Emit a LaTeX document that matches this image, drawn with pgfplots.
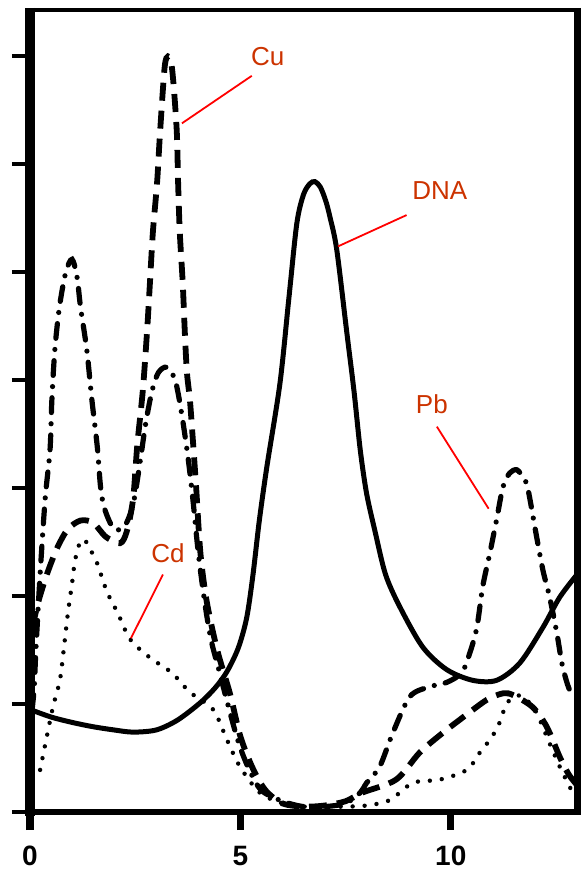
\documentclass[border=0pt]{standalone}
\usepackage{fontspec}
\setmainfont{Liberation Sans}
\usepackage{pgfplots}
\pgfplotsset{compat=1.18}
\definecolor{labelred}{RGB}{204,51,0}
\definecolor{leadred}{RGB}{255,0,0}

\begin{document}
\begin{tikzpicture}
% page: 15pt left of the axis, 30.5pt below it, 3pt right, 5pt above
\useasboundingbox (-15pt,-30.5pt) rectangle (276.5pt,406pt);
\begin{axis}[
    at={(0,0)}, anchor=south west,
    width=273.5pt, height=401pt, scale only axis,
    xmin=0, xmax=13, ymin=0, ymax=7.43,
    axis line style={draw=none},
    xtick={0,5,10}, xticklabels={0,5,10},
    ytick={0,1,2,3,4,5,6,7}, yticklabels={},
    tick align=outside, major tick length=9pt,
    tick pos=left,
    x tick style={line width=3.5pt, black},
    y tick style={line width=2pt, black},
    xticklabel style={font=\fontsize{14}{14}\selectfont\bfseries, inner sep=0pt, yshift=-8pt},
]
% DNA
\addplot[black, line width=2.5pt, smooth] coordinates {
(0,0.95) (0.5,0.88) (1.0,0.83) (1.5,0.79) (2.0,0.76) (2.45,0.74) (3.0,0.76)
(3.5,0.85) (4.04,1.01) (4.4,1.15) (4.68,1.3) (4.95,1.52) (5.15,1.8) (5.3,2.2)
(5.45,2.7) (5.63,3.2) (5.94,3.97) (6.15,4.75) (6.34,5.45) (6.5,5.72) (6.65,5.82)
(6.77,5.84) (6.9,5.79) (7.03,5.66) (7.13,5.51) (7.29,5.21) (7.53,4.44) (7.7,3.9)
(7.85,3.35) (8.0,2.95) (8.2,2.6) (8.45,2.2) (8.79,1.90) (9.33,1.53) (9.9,1.32)
(10.52,1.22) (11.09,1.22) (11.64,1.38) (12.19,1.71) (12.59,1.99) (13.0,2.2)};
% Cu
\addplot[black, line width=2.9pt, dash pattern=on 9pt off 5pt, smooth] coordinates {
(0.05,1.7) (0.2,1.95) (0.4,2.2) (0.65,2.45) (0.9,2.62) (1.2,2.7) (1.5,2.68)
(1.8,2.55) (2.14,2.49) (2.3,2.6) (2.45,2.9) (2.55,3.4) (2.68,3.9) (2.78,4.44)
(2.85,4.9) (2.92,5.37) (3.02,5.83) (3.09,6.29) (3.2,6.9) (3.28,7.0) (3.36,6.93)
(3.42,6.7) (3.49,6.29) (3.52,5.83) (3.56,5.37) (3.63,4.9) (3.68,4.44) (3.73,4.07)
(3.8,3.82) (3.87,3.45) (3.95,3.0) (4.05,2.4) (4.2,1.95) (4.45,1.5) (4.75,1.1)
(5.0,0.7) (5.3,0.4) (5.6,0.2) (6.0,0.08) (6.5,0.05) (7.0,0.06) (7.5,0.1)
(7.9,0.18) (8.7,0.3) (9.26,0.55) (9.8,0.73) (10.3,0.88) (10.86,1.04) (11.25,1.1)
(11.5,1.08) (11.95,0.97) (12.28,0.79) (12.59,0.51) (12.8,0.35) (13.0,0.25)};
% Pb
\addplot[black, line width=2.6pt, line cap=round, dash pattern=on 7.4pt off 5.6pt on 0pt off 5.6pt, smooth] coordinates {
(0.05,0.95) (0.1,1.15) (0.14,1.5) (0.24,2.2) (0.36,2.9) (0.475,3.35) (0.52,3.82)
(0.59,4.28) (0.7,4.68) (0.85,5.0) (1.0,5.12) (1.12,4.95) (1.2,4.68) (1.35,4.28)
(1.47,3.82) (1.6,3.38) (1.68,3.0) (1.78,2.8) (2.0,2.62) (2.25,2.65) (2.45,2.85)
(2.6,3.2) (2.75,3.6) (2.9,3.9) (3.05,4.07) (3.25,4.12) (3.45,4.0) (3.6,3.7)
(3.75,3.3) (3.87,2.9) (4.0,2.4) (4.15,1.95) (4.3,1.6) (4.5,1.3) (4.7,1.0)
(4.95,0.65) (5.2,0.4) (5.5,0.2) (6.0,0.1) (6.5,0.05) (7.0,0.05) (7.5,0.08)
(7.85,0.18) (8.0,0.27) (8.31,0.42) (8.62,0.73) (9.03,1.07) (9.5,1.16) (9.9,1.2)
(10.26,1.29) (10.45,1.47) (10.62,1.71) (10.76,2.09) (10.93,2.40) (11.09,2.71)
(11.24,3.01) (11.4,3.14) (11.57,3.17) (11.72,3.1) (11.83,3.0) (12.04,2.55)
(12.19,2.24) (12.35,1.99) (12.52,1.66) (12.64,1.38) (12.76,1.2) (12.9,1.05)};
% Cd
\addplot[black, line width=2.2pt, dash pattern=on 0pt off 6pt, line cap=round, smooth] coordinates {
(0.24,0.39) (0.4,0.7) (0.55,0.98) (0.71,1.22) (0.8,1.5) (0.9,1.84) (1.0,2.12)
(1.07,2.33) (1.19,2.5) (1.3,2.52) (1.45,2.42) (1.6,2.3) (1.83,2.04) (2.09,1.84)
(2.38,1.6) (2.85,1.43) (3.37,1.29) (3.8,1.11) (4.35,0.95) (4.68,0.67) (4.99,0.42)
(5.46,0.18) (6.0,0.08) (6.5,0.05) (7.0,0.05) (7.5,0.05) (8.0,0.06) (8.55,0.11)
(9.1,0.27) (9.74,0.3) (10.38,0.39) (10.69,0.55) (10.93,0.67) (11.12,0.79)
(11.24,0.92) (11.4,1.04) (11.64,1.08) (11.85,1.02) (12.04,0.92) (12.28,0.70)
(12.59,0.42) (12.87,0.2)};

\coordinate (bl) at (rel axis cs:0,0);
\coordinate (br) at (rel axis cs:1,0);
\coordinate (tl) at (rel axis cs:0,1);
\coordinate (tr) at (rel axis cs:1,1);

% labels
\node[text=labelred, font=\fontsize{13}{13}\selectfont] at (axis cs:5.65,7.0) {Cu};
\node[text=labelred, font=\fontsize{13}{13}\selectfont] at (axis cs:9.74,5.76) {DNA};
\node[text=labelred, font=\fontsize{13}{13}\selectfont] at (axis cs:9.55,3.78) {Pb};
\node[text=labelred, font=\fontsize{13}{13}\selectfont] at (axis cs:3.28,2.40) {Cd};
\draw[leadred, line width=0.9pt] (axis cs:5.27,6.82) -- (axis cs:3.61,6.38);
\draw[leadred, line width=0.9pt] (axis cs:8.95,5.53) -- (axis cs:7.32,5.24);
\draw[leadred, line width=0.9pt] (axis cs:9.67,3.57) -- (axis cs:10.9,2.81);
\draw[leadred, line width=0.9pt] (axis cs:3.16,2.2) -- (axis cs:2.4,1.61);
\end{axis}
% frame, heavier on the left as in the scan
\draw[line width=2pt] (tl) -- (tr);
\draw[line width=3.5pt] ([yshift=1pt]tr) -- ([yshift=-1.5pt]br);
\draw[line width=3pt] ([xshift=-2.5pt]bl) -- ([xshift=1.75pt]br);
\draw[line width=5pt] ([yshift=1pt]tl) -- ([yshift=-2pt]bl);
\end{tikzpicture}
\end{document}
